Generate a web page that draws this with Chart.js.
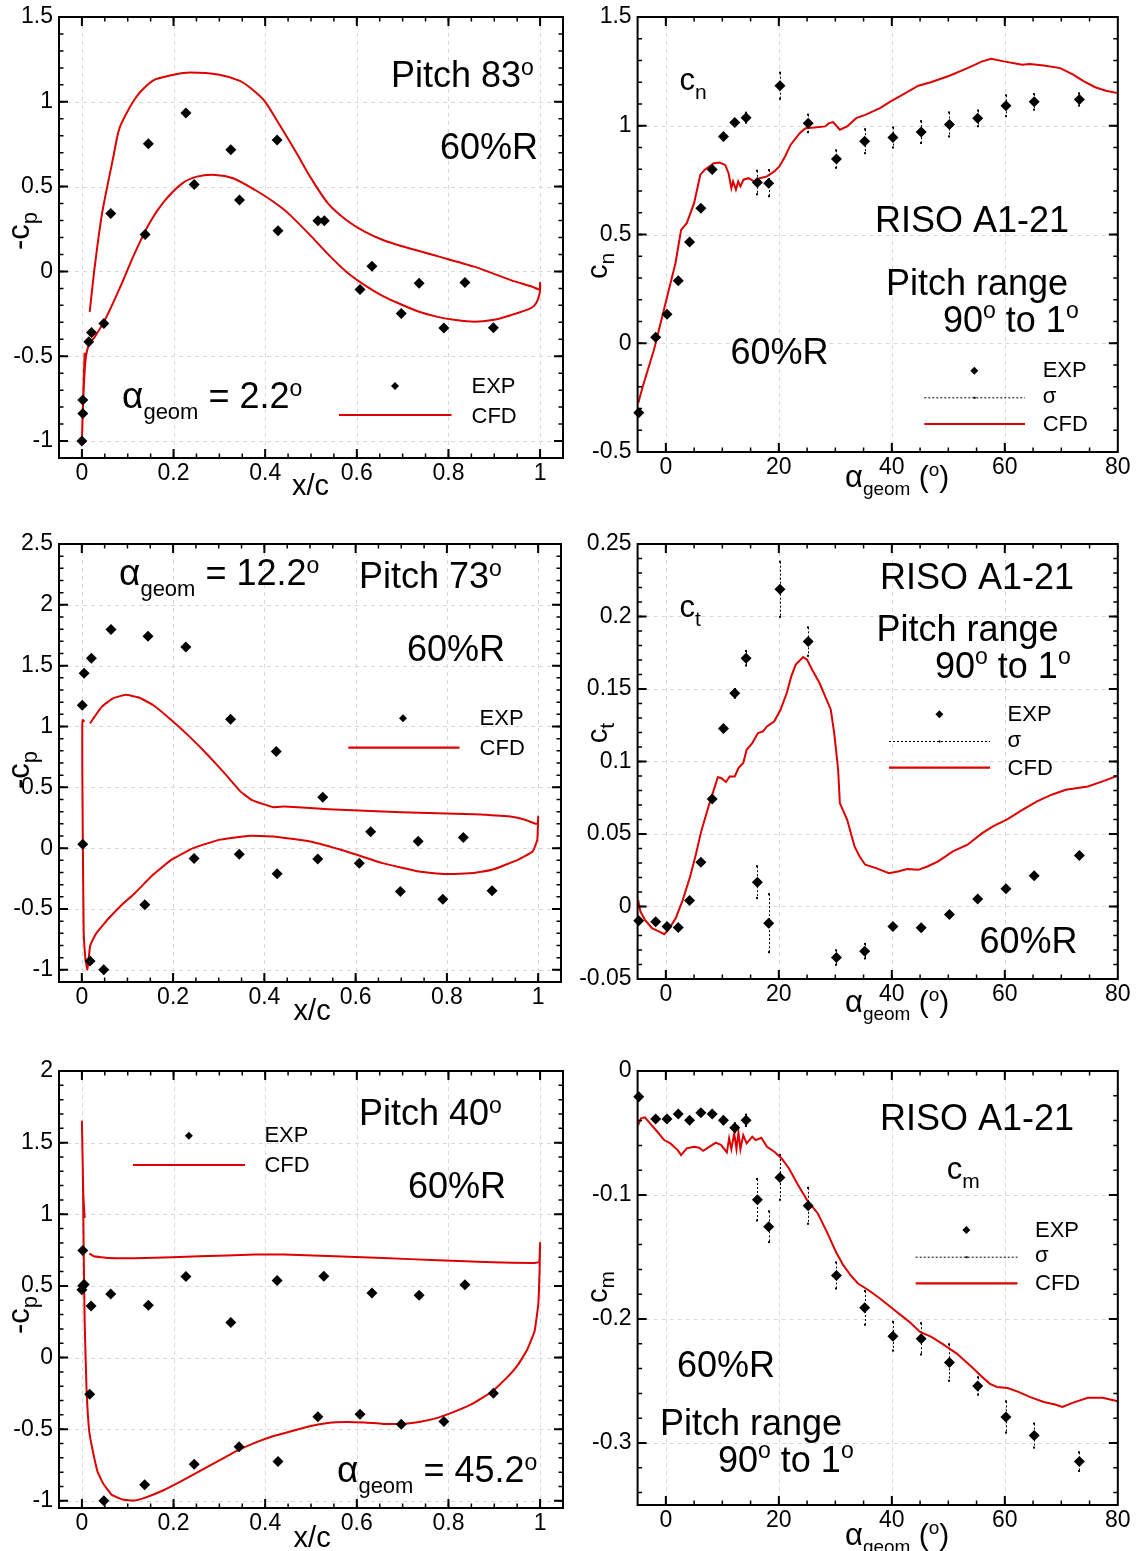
<!DOCTYPE html>
<html><head><meta charset="utf-8">
<script src="https://cdn.jsdelivr.net/npm/chart.js@4.4.1/dist/chart.umd.min.js"></script>
<style>
html,body{margin:0;padding:0;background:#fff;}
body{width:1139px;height:1551px;position:relative;overflow:hidden;}
canvas{position:absolute;}
</style></head><body>
<script>
// ---------------- DATA ----------------
// pressure distributions (x/c, -cp)
const cp83ExpX = [0, 0.002, 0.002, 0.015, 0.021, 0.048, 0.063, 0.138, 0.145, 0.227, 0.245, 0.325, 0.344, 0.426, 0.428, 0.515, 0.529, 0.607, 0.633, 0.697, 0.736, 0.79, 0.836, 0.898];
const cp83ExpY = [-1, -0.837, -0.758, -0.415, -0.36, -0.307, 0.342, 0.218, 0.753, 0.934, 0.513, 0.718, 0.421, 0.775, 0.24, 0.299, 0.299, -0.106, 0.031, -0.248, -0.069, -0.334, -0.065, -0.332];
const cp83Cfd = [[0.006,-0.48],[0.002,-0.8],[0,-1.0],[0.003,-0.75],[0.008,-0.52],[0.016,-0.425],[0.028,-0.386],[0.052,-0.277],[0.084,-0.09],[0.115,0.106],[0.147,0.283],[0.179,0.411],[0.219,0.519],[0.251,0.559],[0.291,0.569],[0.33,0.549],[0.378,0.48],[0.418,0.411],[0.442,0.362],[0.458,0.323],[0.498,0.214],[0.537,0.102],[0.577,-0.002],[0.617,-0.081],[0.657,-0.146],[0.697,-0.195],[0.736,-0.238],[0.776,-0.268],[0.816,-0.287],[0.856,-0.297],[0.896,-0.287],[0.936,-0.258],[0.979,-0.218],[0.991,-0.189],[0.999,-0.13],[1.0,-0.067],[0.998,-0.105],[0.983,-0.09],[0.936,-0.051],[0.856,0.028],[0.776,0.09],[0.697,0.15],[0.657,0.185],[0.617,0.234],[0.577,0.303],[0.537,0.401],[0.5,0.55],[0.469,0.695],[0.432,0.862],[0.4,1.0],[0.374,1.068],[0.345,1.123],[0.3,1.16],[0.236,1.173],[0.2,1.16],[0.156,1.127],[0.119,1.03],[0.083,0.852],[0.068,0.667],[0.044,0.342],[0.028,0.028],[0.017,-0.238]];

const cp73ExpX = [0.001, 0.005, 0.021, 0.064, 0.145, 0.228, 0.326, 0.426, 0.528, 0.633, 0.737, 0.836, 0.002, 0.018, 0.048, 0.138, 0.246, 0.345, 0.428, 0.517, 0.608, 0.698, 0.791, 0.899];
const cp73ExpY = [1.174, 1.437, 1.56, 1.798, 1.741, 1.653, 1.059, 0.794, 0.419, 0.134, 0.057, 0.088, 0.033, -0.928, -1.0, -0.465, -0.085, -0.049, -0.211, -0.09, -0.123, -0.356, -0.419, -0.35];
const cp73Cfd = [[0.006,1.04],[0.002,1.054],[0.001,1.0],[0.001,0.7],[0.002,0.15],[0.004,-0.67],[0.008,-0.915],[0.012,-0.997],[0.014,-0.943],[0.018,-0.808],[0.024,-0.753],[0.032,-0.698],[0.044,-0.643],[0.056,-0.588],[0.084,-0.479],[0.116,-0.37],[0.156,-0.219],[0.196,-0.096],[0.244,0.0],[0.3,0.068],[0.364,0.101],[0.42,0.096],[0.5,0.055],[0.58,-0.027],[0.659,-0.123],[0.739,-0.192],[0.795,-0.213],[0.859,-0.205],[0.899,-0.178],[0.955,-0.096],[0.988,-0.027],[0.998,0.068],[1.0,0.26],[0.999,0.2],[0.991,0.205],[0.971,0.233],[0.939,0.26],[0.859,0.279],[0.779,0.287],[0.7,0.296],[0.62,0.307],[0.54,0.32],[0.444,0.342],[0.42,0.337],[0.396,0.364],[0.372,0.397],[0.348,0.465],[0.316,0.602],[0.276,0.766],[0.236,0.917],[0.196,1.054],[0.156,1.177],[0.124,1.24],[0.096,1.26],[0.068,1.232],[0.044,1.163],[0.028,1.081],[0.018,1.026]];

const cp40ExpX = [0, 0.002, 0.002, 0.005, 0.02, 0.063, 0.145, 0.227, 0.325, 0.426, 0.528, 0.633, 0.736, 0.836, 0.017, 0.048, 0.137, 0.245, 0.343, 0.428, 0.515, 0.607, 0.697, 0.79, 0.898];
const cp40ExpY = [0.474, 0.502, 0.747, 0.51, 0.36, 0.444, 0.365, 0.565, 0.244, 0.537, 0.567, 0.451, 0.435, 0.509, -0.256, -1.0, -0.888, -0.744, -0.623, -0.726, -0.414, -0.395, -0.465, -0.447, -0.249];
const cp40Cfd = [[0.016,0.726],[0.026,0.707],[0.058,0.695],[0.137,0.695],[0.257,0.707],[0.377,0.719],[0.441,0.719],[0.537,0.709],[0.657,0.695],[0.776,0.679],[0.896,0.665],[0.984,0.66],[0.998,0.667],[1.0,0.8],[0.999,0.62],[0.996,0.37],[0.988,0.184],[0.972,0.056],[0.952,-0.049],[0.927,-0.142],[0.896,-0.235],[0.856,-0.316],[0.816,-0.374],[0.776,-0.421],[0.736,-0.449],[0.697,-0.463],[0.657,-0.463],[0.617,-0.453],[0.577,-0.449],[0.537,-0.456],[0.497,-0.479],[0.457,-0.514],[0.417,-0.549],[0.377,-0.595],[0.337,-0.653],[0.297,-0.723],[0.257,-0.793],[0.217,-0.863],[0.177,-0.928],[0.137,-0.979],[0.113,-0.998],[0.089,-0.991],[0.065,-0.958],[0.046,-0.877],[0.034,-0.795],[0.024,-0.656],[0.016,-0.516],[0.01,-0.212],[0.006,0.253],[0.004,0.719],[0.002,1.3],[0,1.647],[0.003,1.137],[0.006,0.974]];

// force coefficients vs alpha_geom
const alphaExp = [-4.8,-1.8,0.2,2.2,4.2,6.2,8.2,10.2,12.2,14.2,16.2,18.2,20.2,25.2,30.2,35.2,40.2,45.2,50.2,55.2,60.2,65.2,73.2];
const cnExp = [-0.319,0.028,0.133,0.287,0.465,0.621,0.799,0.951,1.015,1.037,0.739,0.736,1.184,1.011,0.847,0.929,0.946,0.971,1.006,1.034,1.092,1.11,1.121];
const cnSigma = [0.01,0.01,0.01,0.01,0.01,0.01,0.01,0.01,0.012,0.023,0.054,0.06,0.06,0.04,0.04,0.055,0.046,0.05,0.055,0.036,0.048,0.036,0.028];
const ctExp = [-0.0099,-0.0106,-0.0138,-0.0145,0.0041,0.0306,0.0741,0.1228,0.147,0.1712,0.0168,-0.0115,0.2188,0.1827,-0.0352,-0.0308,-0.0138,-0.0147,-0.0055,0.0051,0.0122,0.0212,0.0352];
const ctSigma = [0.001,0.001,0.001,0.001,0.001,0.002,0.002,0.002,0.003,0.005,0.011,0.02,0.019,0.0098,0.005,0.005,0.002,0.002,0.002,0.002,0.002,0.002,0.002];
const cmExp = [-0.0207,-0.0387,-0.0387,-0.0347,-0.0398,-0.0336,-0.0347,-0.0398,-0.0457,-0.0398,-0.1038,-0.1256,-0.0858,-0.1087,-0.1649,-0.191,-0.2139,-0.216,-0.2351,-0.254,-0.279,-0.294,-0.315];
const cmSigma = [0.003,0.002,0.002,0.002,0.002,0.002,0.002,0.003,0.0036,0.0046,0.0167,0.0124,0.018,0.0145,0.0105,0.0136,0.0116,0.0126,0.0147,0.007,0.0126,0.0097,0.0075];

const cnCfd = [[-4.9,-0.276],[-4.1,-0.2],[-2.1,-0.03],[-0.2,0.169],[1.7,0.368],[2.7,0.521],[3.7,0.552],[5.0,0.644],[6.1,0.775],[6.9,0.798],[8.5,0.828],[9.5,0.831],[10.5,0.82],[11.1,0.782],[11.6,0.713],[11.9,0.744],[12.4,0.706],[12.8,0.744],[13.2,0.721],[13.75,0.752],[14.65,0.759],[15.6,0.744],[16.6,0.759],[17.9,0.767],[19.2,0.79],[20.1,0.813],[21.1,0.859],[22.1,0.913],[23.7,0.966],[24.7,0.989],[26.3,0.992],[28.2,0.997],[28.9,1.012],[29.6,1.017],[30.8,0.982],[32.1,0.997],[33.7,1.035],[35.3,1.05],[37.9,1.081],[39.8,1.112],[42.4,1.15],[44.7,1.184],[46.9,1.2],[50.2,1.23],[53.4,1.265],[56.0,1.296],[57.6,1.308],[59.8,1.296],[63.1,1.281],[64.4,1.284],[66.9,1.277],[69.8,1.265],[72.1,1.235],[74.0,1.204],[76.0,1.177],[77.9,1.161],[80,1.15]];
const ctCfd = [[-4.9,0.0046],[-4.5,-0.0035],[-3.7,-0.0092],[-2.45,-0.015],[-1.16,-0.0173],[-0.3,-0.0191],[0.45,-0.0161],[1.74,-0.0081],[3.0,0.0046],[4.3,0.0207],[5.3,0.0357],[6.26,0.0518],[7.55,0.069],[8.4,0.0794],[9.2,0.0892],[9.8,0.0886],[10.65,0.0858],[11.3,0.0897],[12.2,0.0897],[12.85,0.0955],[13.7,0.099],[14.3,0.1081],[15.3,0.1127],[16.3,0.1196],[17.2,0.1208],[17.9,0.1242],[19.2,0.1277],[20.3,0.1357],[21.4,0.1472],[22.2,0.1587],[23.0,0.1668],[24.3,0.172],[25.0,0.1702],[25.9,0.1633],[27.2,0.1541],[28.2,0.1449],[29.2,0.1357],[29.8,0.1196],[30.5,0.0943],[30.8,0.0713],[32.1,0.0598],[33.4,0.0414],[34.3,0.0345],[35.3,0.0288],[37.2,0.0265],[39.5,0.023],[41.1,0.0242],[42.7,0.0258],[44.7,0.0253],[46.3,0.0276],[48.2,0.0311],[50.8,0.038],[53.4,0.0426],[56,0.0506],[57.9,0.0552],[60.5,0.0603],[63.1,0.0667],[65.7,0.0725],[68.3,0.0771],[70.8,0.0805],[74.7,0.0828],[77.3,0.0863],[80,0.0902]];
const cmCfd = [[-4.9,-0.0436],[-4.4,-0.0382],[-3.7,-0.0374],[-2.8,-0.0422],[-1.5,-0.049],[-0.3,-0.0557],[0.8,-0.0584],[2.1,-0.0638],[2.7,-0.0678],[3.7,-0.0624],[5.0,-0.0611],[5.9,-0.0619],[6.6,-0.0643],[7.55,-0.0616],[8.85,-0.0578],[9.8,-0.0597],[10.8,-0.0656],[11.2,-0.0543],[11.6,-0.063],[12.1,-0.0503],[12.5,-0.063],[12.85,-0.0495],[13.2,-0.063],[13.7,-0.0517],[14.3,-0.0584],[15.3,-0.053],[15.9,-0.0557],[16.9,-0.0538],[17.9,-0.0611],[19.2,-0.0651],[20.5,-0.0705],[21.8,-0.0786],[23.4,-0.092],[25.0,-0.1041],[26.9,-0.1149],[28.5,-0.1297],[30.1,-0.1458],[31.4,-0.1566],[32.7,-0.1647],[34.0,-0.1714],[35.9,-0.1768],[37.9,-0.1835],[40.5,-0.1929],[43.1,-0.2023],[45.0,-0.2104],[47.0,-0.2144],[48.9,-0.2198],[51.5,-0.2279],[54.1,-0.2386],[56.0,-0.2467],[57.3,-0.2521],[58.6,-0.2548],[60.5,-0.2556],[62.4,-0.2588],[64.4,-0.2628],[66.9,-0.2669],[68.9,-0.269],[70.2,-0.2709],[72.1,-0.2674],[74.7,-0.2636],[77.3,-0.2636],[80,-0.2663]];

// tick labels
const xcTicks = [0, 0.2, 0.4, 0.6, 0.8, 1];
const alphaTicks = [0, 20, 40, 60, 80];
const cp83Ticks = [-1, -0.5, 0, 0.5, 1, 1.5];
const cp73Ticks = [-1, -0.5, 0, 0.5, 1, 1.5, 2, 2.5];
const cp40Ticks = [-1, -0.5, 0, 0.5, 1, 1.5, 2];
const cnTicks = [-0.5, 0, 0.5, 1, 1.5];
const ctTicks = [-0.05, 0, 0.05, 0.1, 0.15, 0.2, 0.25];
const cmTicks = [-0.3, -0.2, -0.1, 0];

// ---------------- RENDERING ----------------
const FONT = "'Liberation Sans', Arial, Helvetica, sans-serif";
const RED = '#dd0000';
const BIG = 36;

function steps(a, b, s) { const r = []; const n = Math.round((b - a) / s); for (let i = 0; i <= n; i++) r.push(a + i * s); return r; }

function drawRich(ctx, x, y, segs, rot) {
  ctx.save();
  ctx.translate(x, y);
  ctx.fillStyle = '#000';
  ctx.textAlign = 'left';
  ctx.textBaseline = 'alphabetic';
  let total = 0;
  segs.forEach(s => { ctx.font = s[1] + 'px ' + FONT; total += ctx.measureText(s[0]).width; });
  let cx = 0;
  if (rot) { ctx.rotate(-Math.PI / 2); cx = -total / 2; }
  segs.forEach(s => { ctx.font = s[1] + 'px ' + FONT; ctx.fillText(s[0], cx, s[2] || 0); cx += ctx.measureText(s[0]).width; });
  ctx.restore();
}

function diamond(ctx, x, y, r) {
  ctx.beginPath(); ctx.moveTo(x, y - r); ctx.lineTo(x + r, y); ctx.lineTo(x, y + r); ctx.lineTo(x - r, y); ctx.closePath(); ctx.fill();
}

function deco(p) {
  return {
    id: 'deco',
    beforeDatasetsDraw(chart) {
      const { ctx, chartArea: a, scales: { x, y } } = chart;
      ctx.save();
      ctx.strokeStyle = '#d8d8d8'; ctx.lineWidth = 1; ctx.setLineDash([4, 4]);
      p.xTicks.forEach(v => { const px = Math.round(x.getPixelForValue(v)) + 0.5; ctx.beginPath(); ctx.moveTo(px, a.top); ctx.lineTo(px, a.bottom); ctx.stroke(); });
      p.yTicks.forEach(v => { const py = Math.round(y.getPixelForValue(v)) + 0.5; ctx.beginPath(); ctx.moveTo(a.left, py); ctx.lineTo(a.right, py); ctx.stroke(); });
      if (p.sigma) {
        ctx.strokeStyle = '#000'; ctx.fillStyle = '#000'; ctx.lineWidth = 1; ctx.setLineDash([2, 2]);
        p.expX.forEach((xv, i) => {
          const px = Math.round(x.getPixelForValue(xv)) + 0.5;
          const y1 = y.getPixelForValue(p.expY[i] + p.sigma[i]);
          const y2 = y.getPixelForValue(p.expY[i] - p.sigma[i]);
          ctx.beginPath(); ctx.moveTo(px, y1); ctx.lineTo(px, y2); ctx.stroke();
          ctx.fillRect(px - 1.5, y1 - 1, 2, 2); ctx.fillRect(px - 1.5, y2 - 1, 2, 2);
        });
      }
      ctx.restore();
    },
    afterDraw(chart) {
      const { ctx, chartArea: a, scales: { x, y } } = chart;
      ctx.save();
      ctx.strokeStyle = '#000'; ctx.setLineDash([]);
      const tick = (vals, len, lw) => {
        ctx.lineWidth = lw;
        vals.xs.forEach(v => { const px = x.getPixelForValue(v); if (px < a.left + 1 || px > a.right - 1) return;
          ctx.beginPath(); ctx.moveTo(px, a.bottom); ctx.lineTo(px, a.bottom - len); ctx.moveTo(px, a.top); ctx.lineTo(px, a.top + len); ctx.stroke(); });
        vals.ys.forEach(v => { const py = y.getPixelForValue(v); if (py < a.top + 1 || py > a.bottom - 1) return;
          ctx.beginPath(); ctx.moveTo(a.left, py); ctx.lineTo(a.left + len, py); ctx.moveTo(a.right, py); ctx.lineTo(a.right - len, py); ctx.stroke(); });
      };
      tick({ xs: p.xMinor, ys: p.yMinor }, 4.5, 1.5);
      tick({ xs: p.xTicks, ys: p.yTicks }, 9, 2);
      ctx.lineWidth = 2;
      ctx.strokeRect(a.left, a.top, a.right - a.left, a.bottom - a.top);
      const L = p.legend, ox = p.ox, oy = p.oy;
      ctx.fillStyle = '#000';
      diamond(ctx, L.marker[0] - ox, L.marker[1] - oy, 4);
      if (L.sigma) {
        ctx.lineWidth = 1; ctx.setLineDash([2, 2]);
        ctx.beginPath(); ctx.moveTo(L.sigma[0] - ox, L.sigma[2] - oy + 0.5); ctx.lineTo(L.sigma[1] - ox, L.sigma[2] - oy + 0.5); ctx.stroke();
        ctx.setLineDash([]);
        ctx.fillRect((L.sigma[0] + L.sigma[1]) / 2 - ox - 1, L.sigma[2] - oy - 0.5, 2, 2);
      }
      ctx.strokeStyle = RED; ctx.lineWidth = 2.2; ctx.setLineDash([]);
      ctx.beginPath(); ctx.moveTo(L.cfd[0] - ox, L.cfd[2] - oy); ctx.lineTo(L.cfd[1] - ox, L.cfd[2] - oy); ctx.stroke();
      p.texts.forEach(t => drawRich(ctx, t.x - ox, t.y - oy, t.segs, t.rot));
      ctx.restore();
    }
  };
}

function makePanel(p) {
  const cv = document.createElement('canvas');
  cv.width = p.w; cv.height = p.h;
  cv.style.left = p.ox + 'px'; cv.style.top = p.oy + 'px';
  cv.style.width = p.w + 'px'; cv.style.height = p.h + 'px';
  document.body.appendChild(cv);
  const L = p.area[0] - p.ox, T = p.area[1] - p.oy, R = p.area[2] - p.ox, B = p.area[3] - p.oy;
  const tickFont = { family: FONT, size: 23 };
  new Chart(cv, {
    type: 'scatter',
    data: {
      datasets: [
        { data: p.cfd.map(d => ({ x: d[0], y: d[1] })), showLine: true, borderColor: RED, borderWidth: 2, pointRadius: 0, tension: p.tension, fill: false, order: 2 },
        { data: p.expX.map((v, i) => ({ x: v, y: p.expY[i] })), showLine: false, pointStyle: 'rectRot', pointRadius: 5.5, backgroundColor: '#000', borderColor: '#000', borderWidth: 0, clip: false, order: 1 }
      ]
    },
    options: {
      responsive: false, animation: false, devicePixelRatio: 1, events: [],
      layout: { autoPadding: false, padding: { left: 0, top: T, right: p.w - R, bottom: 0 } },
      plugins: { legend: { display: false }, tooltip: { enabled: false } },
      scales: {
        x: {
          type: 'linear', position: 'bottom', min: p.xr[0], max: p.xr[1],
          afterBuildTicks: s => { s.ticks = p.xTicks.map(v => ({ value: v })); },
          afterFit: s => { s.height = p.h - B; s.paddingLeft = 0; s.paddingRight = 0; },
          grid: { display: false, drawTicks: false }, border: { display: false },
          ticks: { font: tickFont, color: '#000', padding: 2, maxRotation: 0, minRotation: 0, autoSkip: false, callback: v => String(v) }
        },
        y: {
          type: 'linear', position: 'left', min: p.yr[0], max: p.yr[1],
          afterBuildTicks: s => { s.ticks = p.yTicks.map(v => ({ value: v })); },
          afterFit: s => { s.width = L; s.paddingTop = 0; s.paddingBottom = 0; },
          grid: { display: false, drawTicks: false }, border: { display: false },
          ticks: { font: tickFont, color: '#000', padding: 6, autoSkip: false, callback: v => String(v) }
        }
      }
    },
    plugins: [deco(p)]
  });
}

const cpTitle = [['-c', 31], ['p', 22, 8]];
const alphaTitle = [['α', 31], ['geom', 19, 8], [' (', 30], ['o', 19, -11], [')', 30]];
const rangeLine = [['90', BIG], ['o', 23, -14], [' to 1', BIG], ['o', 23, -14]];

// Top-left
makePanel({
  ox: 0, oy: 0, w: 570, h: 525, area: [59, 17, 563, 458],
  xr: [-0.05, 1.05], yr: [-1.1, 1.5], xTicks: xcTicks, yTicks: cp83Ticks,
  xMinor: steps(-0.05, 1.05, 0.05), yMinor: steps(-1.1, 1.5, 0.1),
  expX: cp83ExpX, expY: cp83ExpY, cfd: cp83Cfd, tension: 0.25,
  legend: { marker: [395, 386], cfd: [339, 451.5, 415] },
  texts: [
    { x: 391, y: 87, segs: [['Pitch 83', BIG], ['o', 23, -12]] },
    { x: 440, y: 159, segs: [['60%R', BIG]] },
    { x: 122, y: 408, segs: [['α', 37], ['geom', 22, 11], [' = 2.2', BIG], ['o', 23, -12]] },
    { x: 471.5, y: 393, segs: [['EXP', 22]] },
    { x: 471.5, y: 423, segs: [['CFD', 22]] },
    { x: 292, y: 495, segs: [['x/c', 29]] },
    { x: 29, y: 231, rot: true, segs: cpTitle }
  ]
});
// Top-right
makePanel({
  ox: 570, oy: 0, w: 569, h: 525, area: [637.6, 17, 1117.8, 452],
  xr: [-5, 80], yr: [-0.5, 1.5], xTicks: alphaTicks, yTicks: cnTicks,
  xMinor: steps(-5, 80, 5), yMinor: steps(-0.5, 1.5, 0.1),
  expX: alphaExp, expY: cnExp, sigma: cnSigma, cfd: cnCfd, tension: 0,
  legend: { marker: [974.3, 370.7], sigma: [924.3, 1025, 397.3], cfd: [924.3, 1025, 424] },
  texts: [
    { x: 679.4, y: 90, segs: [['c', 31], ['n', 21, 9]] },
    { x: 875, y: 231.7, segs: [['RISO A1-21', BIG]] },
    { x: 886, y: 295, segs: [['Pitch range', BIG]] },
    { x: 943, y: 331.7, segs: rangeLine },
    { x: 730.5, y: 364.3, segs: [['60%R', BIG]] },
    { x: 1042.7, y: 377, segs: [['EXP', 22]] },
    { x: 1042.7, y: 403, segs: [['σ', 22]] },
    { x: 1042.7, y: 431, segs: [['CFD', 22]] },
    { x: 845, y: 487, segs: alphaTitle },
    { x: 607, y: 266, rot: true, segs: [['c', 29], ['n', 21, 7]] }
  ]
});
// Middle-left
makePanel({
  ox: 0, oy: 525, w: 570, h: 525, area: [59, 544, 561, 982],
  xr: [-0.05, 1.05], yr: [-1.1, 2.5], xTicks: xcTicks, yTicks: cp73Ticks,
  xMinor: steps(-0.05, 1.05, 0.05), yMinor: steps(-1.1, 2.5, 0.1),
  expX: cp73ExpX, expY: cp73ExpY, cfd: cp73Cfd, tension: 0.1,
  legend: { marker: [403, 718.3], cfd: [348.3, 459.5, 747.7] },
  texts: [
    { x: 119, y: 585, segs: [['α', 37], ['geom', 22, 11], [' = 12.2', BIG], ['o', 23, -12]] },
    { x: 359, y: 588.3, segs: [['Pitch 73', BIG], ['o', 23, -12]] },
    { x: 407, y: 661, segs: [['60%R', BIG]] },
    { x: 479.6, y: 725, segs: [['EXP', 22]] },
    { x: 479.6, y: 755, segs: [['CFD', 22]] },
    { x: 293.6, y: 1020, segs: [['x/c', 29]] },
    { x: 29, y: 770, rot: true, segs: cpTitle }
  ]
});
// Middle-right
makePanel({
  ox: 570, oy: 525, w: 569, h: 525, area: [637.6, 544, 1117.8, 979],
  xr: [-5, 80], yr: [-0.05, 0.25], xTicks: alphaTicks, yTicks: ctTicks,
  xMinor: steps(-5, 80, 5), yMinor: steps(-0.05, 0.25, 0.01),
  expX: alphaExp, expY: ctExp, sigma: ctSigma, cfd: ctCfd, tension: 0,
  legend: { marker: [939.4, 714.3], sigma: [889, 990, 741], cfd: [889, 990, 767.7] },
  texts: [
    { x: 880, y: 589.3, segs: [['RISO A1-21', BIG]] },
    { x: 679.4, y: 617.3, segs: [['c', 31], ['t', 21, 9]] },
    { x: 876.5, y: 641, segs: [['Pitch range', BIG]] },
    { x: 935, y: 677.7, segs: rangeLine },
    { x: 1007.6, y: 721, segs: [['EXP', 22]] },
    { x: 1007.6, y: 747, segs: [['σ', 22]] },
    { x: 1007.6, y: 775, segs: [['CFD', 22]] },
    { x: 979.5, y: 952.7, segs: [['60%R', BIG]] },
    { x: 845, y: 1012, segs: alphaTitle },
    { x: 607, y: 733, rot: true, segs: [['c', 29], ['t', 21, 7]] }
  ]
});
// Bottom-left
makePanel({
  ox: 0, oy: 1050, w: 570, h: 501, area: [59, 1071, 563, 1508],
  xr: [-0.05, 1.05], yr: [-1.05, 2], xTicks: xcTicks, yTicks: cp40Ticks,
  xMinor: steps(-0.05, 1.05, 0.05), yMinor: steps(-1, 2, 0.1),
  expX: cp40ExpX, expY: cp40ExpY, cfd: cp40Cfd, tension: 0.1,
  legend: { marker: [188.9, 1135.7], cfd: [133, 245, 1165] },
  texts: [
    { x: 359, y: 1125, segs: [['Pitch 40', BIG], ['o', 23, -12]] },
    { x: 264.4, y: 1142.3, segs: [['EXP', 22]] },
    { x: 264.4, y: 1172.3, segs: [['CFD', 22]] },
    { x: 408, y: 1197.7, segs: [['60%R', BIG]] },
    { x: 337, y: 1482.3, segs: [['α', 37], ['geom', 22, 11], [' = 45.2', BIG], ['o', 23, -12]] },
    { x: 293.6, y: 1546.7, segs: [['x/c', 29]] },
    { x: 29, y: 1315, rot: true, segs: cpTitle }
  ]
});
// Bottom-right
makePanel({
  ox: 570, oy: 1050, w: 569, h: 501, area: [637.6, 1071, 1117.8, 1505],
  xr: [-5, 80], yr: [-0.35, 0], xTicks: alphaTicks, yTicks: cmTicks,
  xMinor: steps(-5, 80, 5), yMinor: steps(-0.34, 0, 0.02),
  expX: alphaExp, expY: cmExp, sigma: cmSigma, cfd: cmCfd, tension: 0,
  legend: { marker: [966.4, 1230], sigma: [915.7, 1017.5, 1256.7], cfd: [915.7, 1017.5, 1283.3] },
  texts: [
    { x: 880, y: 1130, segs: [['RISO A1-21', BIG]] },
    { x: 946.7, y: 1179, segs: [['c', 31], ['m', 21, 9]] },
    { x: 1035, y: 1236.7, segs: [['EXP', 22]] },
    { x: 1035, y: 1262, segs: [['σ', 22]] },
    { x: 1035, y: 1290, segs: [['CFD', 22]] },
    { x: 677, y: 1376.7, segs: [['60%R', BIG]] },
    { x: 660, y: 1435, segs: [['Pitch range', BIG]] },
    { x: 718, y: 1472.3, segs: rangeLine },
    { x: 845, y: 1545, segs: alphaTitle },
    { x: 607, y: 1287, rot: true, segs: [['c', 29], ['m', 21, 7]] }
  ]
});
</script>
</body></html>
